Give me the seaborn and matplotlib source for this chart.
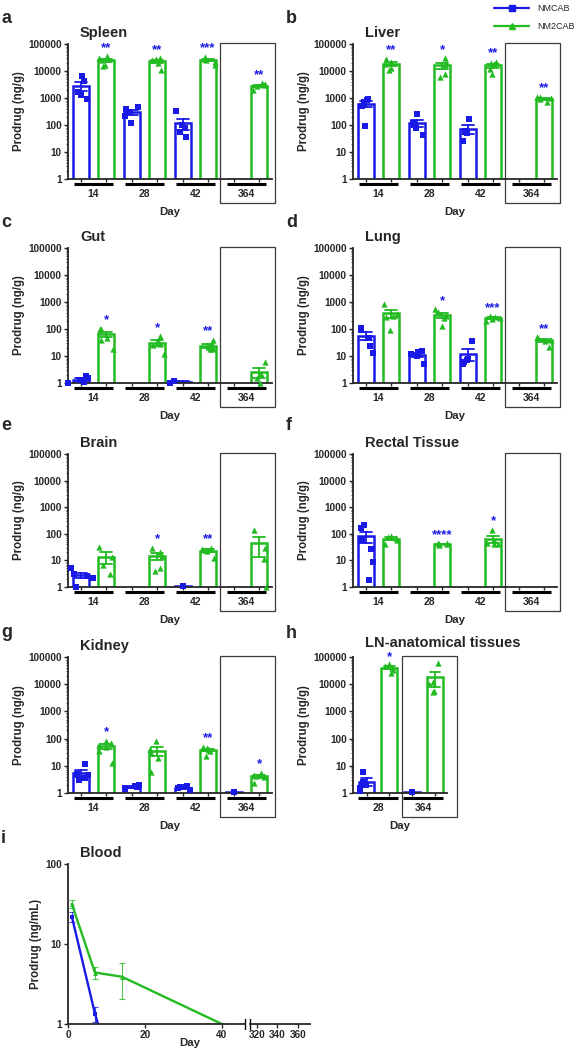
import numpy as np
import pandas as pd
import matplotlib
matplotlib.use("Agg")
import matplotlib.pyplot as plt
import matplotlib.transforms as mtransforms
from matplotlib.patches import Rectangle
from matplotlib.lines import Line2D
from matplotlib.ticker import LogLocator, NullFormatter
import seaborn as sns

# ---------------- data ----------------
days = ["14", "28", "42", "364"]
ln_days = ["28", "364"]
groups = ["NMCAB", "NM2CAB"]
blue = "#1a1ae6"
green = "#22bb22"
colors = {"NMCAB": blue, "NM2CAB": green}
markers = {"NMCAB": "s", "NM2CAB": "^"}
ytick_vals = [1, 10, 100, 1000, 10000, 100000]
ytick_labels = ["1", "10", "100", "1000", "10000", "100000"]

spleen_nmcab = [[6500, 4200, 1600, 1300, 900], [480, 380, 300, 220, 120], [320, 100, 80, 55, 35], []]
spleen_nm2cab = [[35000, 30000, 28000, 26000, 17000, 15000], [30000, 28000, 25000, 20000, 11000],
                 [33000, 28000, 26000, 22000, 17000], [3500, 3200, 3000, 2800, 2000]]
spleen_stars = ["**", "**", "***", "**"]

liver_nmcab = [[900, 850, 700, 500, 90], [250, 120, 100, 80, 42], [170, 60, 55, 50, 25], []]
liver_nm2cab = [[28000, 22000, 18000, 13000, 11000], [30000, 20000, 16000, 8000, 6000],
                [22000, 20000, 18000, 12000, 8000], [1100, 1050, 1000, 900, 700]]
liver_stars = ["**", "*", "**", "**"]

gut_nmcab = [[1.8, 1.5, 1.3, 1.1, 1.0], [], [1.0, 1.15], []]
gut_nm2cab = [[100, 100, 90, 45, 40, 18], [55, 35, 28, 25, 12], [40, 26, 22, 20, 18, 18], [5.8, 2.2, 1.5, 1.0]]
gut_stars = ["*", "*", "**", ""]

lung_nmcab = [[110, 95, 46, 23, 13], [15, 14, 12, 10, 5], [35, 8, 7, 6, 5], []]
lung_nm2cab = [[870, 350, 300, 280, 95], [550, 420, 300, 250, 130], [300, 280, 260, 240, 200], [50, 45, 40, 35, 22]]
lung_stars = ["", "*", "***", "**"]

brain_nmcab = [[5.0, 3.0, 2.6, 2.2, 1.0], [], [1.1], []]
brain_nm2cab = [[32, 13, 7, 3], [30, 20, 15, 5, 4], [30, 28, 25, 22, 12], [135, 30, 11, 1]]
brain_stars = ["", "*", "**", ""]

rectal_nmcab = [[210, 170, 60, 28, 9, 1.8], [], [], []]
rectal_nm2cab = [[85, 75, 70, 60, 40], [45, 44, 42, 40, 38], [140, 60, 45, 40, 40], []]
rectal_stars = ["", "****", "*", ""]

kidney_nmcab = [[12, 5, 4.5, 3.5, 3], [2, 1.8, 1.7, 1.5, 1.4], [1.8, 1.7, 1.6, 1.5, 1.3], [1.1]]
kidney_nm2cab = [[85, 70, 60, 50, 35, 13], [85, 40, 30, 20, 6], [50, 45, 40, 38, 35, 22], [5.5, 4.5, 4.2, 4.0, 2.4]]
kidney_stars = ["*", "", "**", "*"]

ln_nmcab = [[6, 2.5, 2, 1.5, 1.2], [1.05]]
ln_nm2cab = [[56000, 47000, 40000, 33000, 26000], [60000, 12000, 10000, 5500, 5000]]
ln_stars = ["*", ""]

blood_days_nmcab = [1, 7, 14]
blood_nmcab = [22, 1.35, 0.1]
blood_nmcab_sem = [3.0, 0.3, 0.0]
blood_days_nm2cab = [1, 7, 14, 42]
blood_nm2cab = [31.6, 4.4, 3.9, 0.9]
blood_nm2cab_sem = [3.5, 0.8, 1.85, 0.0]

# ---------------- style ----------------
sns.set_style("ticks")
plt.rcParams["font.family"] = ["Liberation Sans", "DejaVu Sans"]
plt.rcParams["font.weight"] = "bold"
plt.rcParams["axes.labelweight"] = "bold"
np.random.seed(3)

W, H = 579, 1050
fig = plt.figure(figsize=(W / 100, H / 100), dpi=100)


def px_rect(l, t, r, b):
    return [l / W, 1 - b / H, (r - l) / W, (b - t) / H]


def fig_text(x, y, s, **kw):
    fig.text(x / W, 1 - y / H, s, **kw)


def style_log_y(ax):
    ax.set_yscale("log")
    ax.set_yticks(ytick_vals)
    ax.set_yticklabels(ytick_labels)
    ax.yaxis.set_minor_locator(LogLocator(base=10, subs=np.arange(2, 10)))
    ax.yaxis.set_minor_formatter(NullFormatter())
    ax.set_ylim(1, 100000)
    ax.tick_params(axis="y", which="major", length=3, width=1.0, labelsize=7.2, pad=1.5)
    ax.tick_params(axis="y", which="minor", length=1.6, width=0.6)


def tissue_panel(rect, letter, letter_xy, title, nm_vals, nm2_vals, stars, day_labels,
                 xlim, offset, bw, box_x, half, title_dy=7, star_dy=6):
    l, t, r, b = rect
    ax = fig.add_axes(px_rect(*rect))
    rows = []
    for gi, (g, vals) in enumerate(zip(groups, [nm_vals, nm2_vals])):
        sign = -1 if gi == 0 else 1
        for di, d in enumerate(day_labels):
            for v in vals[di]:
                rows.append(dict(day=d, group=g, value=v, xpos=di + sign * offset))
    df = pd.DataFrame(rows)
    sns.barplot(data=df, x="day", y="value", hue="group", order=day_labels, hue_order=groups,
                palette=colors, width=4 * offset, gap=1 - bw / (2 * offset), fill=False,
                errorbar="se", capsize=0.45, linewidth=1.8, err_kws={"linewidth": 1.3},
                legend=False, ax=ax)
    for g in groups:
        sub = df[df["group"] == g]
        if len(sub):
            sns.stripplot(data=sub, x="xpos", y="value", native_scale=True, orient="x",
                          jitter=0.15, color=colors[g], marker=markers[g], size=4.5,
                          linewidth=0, ax=ax, zorder=4, clip_on=False)
    style_log_y(ax)
    ax.set_xlim(*xlim)
    pos = []
    for di in range(len(day_labels)):
        pos += [di - offset, di + offset]
    ax.set_xticks(pos)
    ax.set_xticklabels([""] * len(pos))
    ax.tick_params(axis="x", length=2.5, width=1.0)
    for sp in ["top", "right"]:
        ax.spines[sp].set_visible(False)
    for sp in ["left", "bottom"]:
        ax.spines[sp].set_linewidth(1.3)
    hgt = b - t
    trans = mtransforms.blended_transform_factory(ax.transData, ax.transAxes)
    for di, d in enumerate(day_labels):
        ax.plot([di - half, di + half], [-5 / hgt, -5 / hgt], transform=trans, color="black",
                lw=2.2, clip_on=False, solid_capstyle="butt")
        ax.text(di, -15 / hgt, d, transform=trans, ha="center", va="center", fontsize=7.5,
                fontweight="bold")
    # significance stars
    for di, s in enumerate(stars):
        if s:
            top = max(nm2_vals[di])
            ax.annotate(s, xy=(di + offset, top), xytext=(0, star_dy), textcoords="offset points",
                        ha="center", va="center", color=blue, fontsize=9.5, fontweight="bold",
                        annotation_clip=False)
    # box around last group
    ax.add_patch(Rectangle((box_x[0], -24 / hgt), box_x[1] - box_x[0], 1 + 25 / hgt,
                           transform=trans, fill=False, edgecolor="#3a3a3a", lw=0.9,
                           clip_on=False, zorder=0))
    ax.set_xlabel("Day", fontsize=8.2, fontweight="bold")
    ax.xaxis.set_label_coords(0.5, -28 / hgt)
    ax.set_ylabel("Prodrug (ng/g)", fontsize=8.3, fontweight="bold")
    ax.yaxis.set_label_coords(-43 / (r - l), 0.5)
    fig_text(l + 12, t - title_dy, title, fontsize=10.5, fontweight="bold", va="baseline", ha="left")
    fig_text(letter_xy[0], letter_xy[1], letter, fontsize=13, fontweight="bold", va="baseline",
             ha="left")
    return ax


off, bwid = 0.245, 0.33
std_xlim = (-0.5, 3.5)
std_box = (2.48, 3.56)
tissue_panel((68, 44, 272, 179), "a", (1, 23), "Spleen", spleen_nmcab, spleen_nm2cab, spleen_stars,
             days, std_xlim, off, bwid, std_box, 0.39)
tissue_panel((353, 44, 557, 179), "b", (286, 23), "Liver", liver_nmcab, liver_nm2cab, liver_stars,
             days, std_xlim, off, bwid, std_box, 0.39)
tissue_panel((68, 248, 272, 383), "c", (1, 227), "Gut", gut_nmcab, gut_nm2cab, gut_stars,
             days, std_xlim, off, bwid, std_box, 0.39)
tissue_panel((353, 248, 557, 383), "d", (286, 227), "Lung", lung_nmcab, lung_nm2cab, lung_stars,
             days, std_xlim, off, bwid, std_box, 0.39)
tissue_panel((68, 454, 272, 587), "e", (1, 430), "Brain", brain_nmcab, brain_nm2cab, brain_stars,
             days, std_xlim, off, bwid, std_box, 0.39)
tissue_panel((353, 454, 557, 587), "f", (286, 430), "Rectal Tissue", rectal_nmcab, rectal_nm2cab,
             rectal_stars, days, std_xlim, off, bwid, std_box, 0.39)
tissue_panel((68, 657, 272, 793), "g", (1, 637), "Kidney", kidney_nmcab, kidney_nm2cab,
             kidney_stars, days, std_xlim, off, bwid, std_box, 0.39)
tissue_panel((353, 657, 447, 793), "h", (286, 638), "LN-anatomical tissues", ln_nmcab, ln_nm2cab,
             ln_stars, ln_days, (-0.55, 1.52), 0.2525, 0.35, (0.53, 1.74), 0.44,
             title_dy=10, star_dy=4.5)

# ---------------- blood panel ----------------
ax1 = fig.add_axes(px_rect(68, 864, 245, 1024))
ax2 = fig.add_axes(px_rect(250, 864, 310, 1024))
for ax in (ax1, ax2):
    for days_b, vals, sem, c, m in [(blood_days_nmcab, blood_nmcab, blood_nmcab_sem, blue, "s"),
                                    (blood_days_nm2cab, blood_nm2cab, blood_nm2cab_sem, green, "^")]:
        sns.lineplot(x=days_b, y=vals, color=c, marker=m, markersize=3.5, markeredgewidth=0,
                     linewidth=1.7, errorbar=None, ax=ax)
        ax.errorbar(days_b, vals, yerr=sem, fmt="none", ecolor=c, elinewidth=0.8, capsize=2,
                    capthick=0.8, alpha=0.8)
    ax.set_yscale("log")
    ax.set_ylim(1, 100)
    ax.spines["top"].set_visible(False)
    ax.spines["right"].set_visible(False)
    ax.spines["bottom"].set_linewidth(1.3)
    ax.spines["left"].set_linewidth(1.3)
    ax.tick_params(axis="both", which="major", length=3, width=1.0, labelsize=7.2, pad=1.5)
    ax.tick_params(axis="y", which="minor", length=0)
    ax.yaxis.set_minor_formatter(NullFormatter())
ax1.set_xlim(0, 46)
ax1.set_xticks([0, 20, 40])
ax1.set_yticks([1, 10, 100])
ax1.set_yticklabels(["1", "10", "100"])
ax2.set_xlim(313, 372)
ax2.set_xticks([320, 340, 360])
ax2.spines["left"].set_visible(False)
ax2.set_yticks([])
ax2.tick_params(axis="y", which="both", left=False, labelleft=False)
ax1.plot([1, 1], [-0.03, 0.03], transform=ax1.transAxes, color="black", lw=1, clip_on=False)
ax2.plot([0, 0], [-0.03, 0.03], transform=ax2.transAxes, color="black", lw=1, clip_on=False)
ax1.set_ylabel("Prodrug (ng/mL)", fontsize=8.3, fontweight="bold")
ax1.yaxis.set_label_coords(-26 / 177, 0.5)
ax1.set_xlabel("")
ax2.set_xlabel("")
ax2.set_ylabel("")
fig_text(190, 1043, "Day", fontsize=8.2, fontweight="bold", ha="center", va="center")
fig_text(80, 857, "Blood", fontsize=10.5, fontweight="bold", va="baseline", ha="left")
fig_text(1, 843, "i", fontsize=13, fontweight="bold", va="baseline", ha="left")

# ---------------- legend ----------------
handles = [Line2D([], [], color=colors[g], marker=markers[g], markersize=5, lw=1.6) for g in groups]
fig.legend(handles, groups, loc="upper left", bbox_to_anchor=(494 / W, 0.996), frameon=False,
           prop={"size": 6.5, "weight": "normal"}, handlelength=3.9, handletextpad=0.9,
           labelspacing=0.95, borderpad=0, borderaxespad=0)

fig.savefig("out.png", dpi=100)
